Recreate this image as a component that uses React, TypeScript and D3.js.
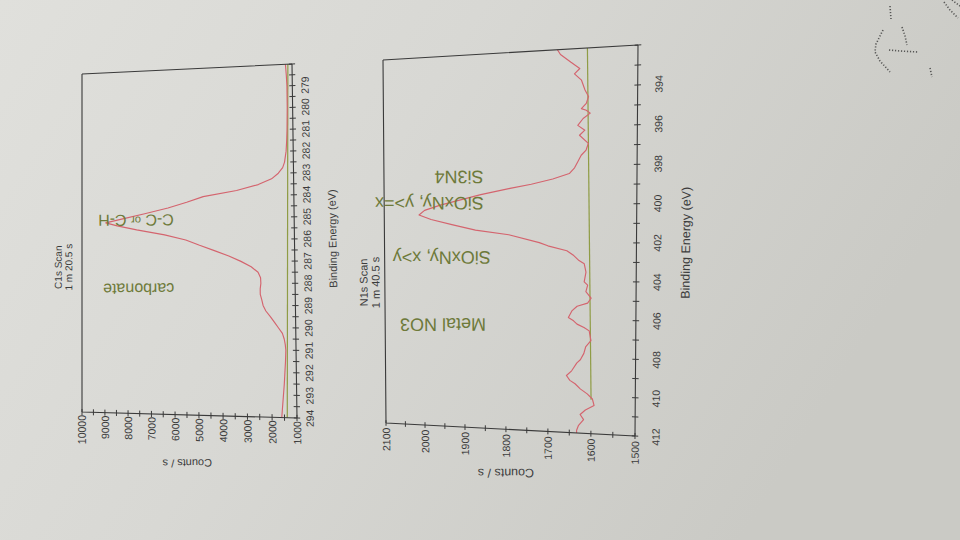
import React from 'react';
import * as d3 from 'd3';

// ---------- C1s scan ----------
const c1sEnergy = [294.0, 293.5, 293.0, 292.5, 292.0, 291.5, 291.0, 290.75, 290.5, 290.25, 290.0, 289.75, 289.5, 289.25, 289.0, 288.75, 288.5, 288.25, 288.0, 287.75, 287.5, 287.25, 287.0, 286.75, 286.5, 286.25, 286.0, 285.75, 285.5, 285.3, 285.15, 285.0, 284.75, 284.5, 284.25, 284.0, 283.75, 283.5, 283.25, 283.0, 282.75, 282.5, 282.0, 281.5, 281.0, 280.0, 279.0, 278.5, 278.0];
const c1sCounts = [1610, 1570, 1530, 1490, 1460, 1430, 1410, 1430, 1470, 1540, 1700, 1860, 2020, 2200, 2310, 2360, 2420, 2420, 2390, 2400, 2500, 2780, 3200, 3700, 4300, 4920, 5500, 6400, 7600, 8450, 8950, 8300, 7250, 6250, 5450, 4750, 3350, 2450, 1900, 1620, 1440, 1360, 1290, 1260, 1240, 1220, 1220, 1240, 1270];
const c1sBgEnergy = [294, 278];
const c1sBgCounts = [1390, 1170];
const c1sXLabels = [294, 293, 292, 291, 290, 289, 288, 287, 286, 285, 284, 283, 282, 281, 280, 279];
const c1sYLabels = [1000, 2000, 3000, 4000, 5000, 6000, 7000, 8000, 9000, 10000];
const c1sNoteText = ['C-C or C-H', 'carbonate'];
const c1sNoteEnergy = [285.08, 288.25];
const c1sNoteCounts = [6000, 6000];

// ---------- N1s scan ----------
const n1sEnergy = [412.0, 411.86, 411.61, 411.27, 411.01, 410.76, 410.5, 410.16, 409.9, 409.65, 409.39, 409.22, 408.97, 408.71, 408.28, 408.11, 407.77, 407.43, 407.09, 406.58, 406.41, 406.24, 406.07, 405.9, 405.55, 405.3, 405.13, 404.87, 404.53, 404.19, 404.02, 403.51, 403.08, 402.91, 402.65, 402.4, 402.14, 401.97, 401.55, 401.29, 401.0, 400.7, 400.45, 400.2, 399.93, 399.59, 399.4, 399.1, 398.9, 398.65, 398.39, 398.1, 397.8, 397.46, 397.2, 396.86, 396.43, 396.18, 395.92, 395.58, 395.32, 395.16, 395.07, 394.81, 394.47, 394.13, 393.62, 393.28, 393.02, 392.68, 392.25, 392.0];
const n1sCounts = [1633, 1633, 1629, 1617, 1625, 1613, 1593, 1597, 1609, 1625, 1637, 1649, 1657, 1645, 1633, 1625, 1617, 1613, 1601, 1605, 1617, 1633, 1641, 1653, 1645, 1633, 1609, 1601, 1613, 1609, 1617, 1613, 1617, 1629, 1641, 1657, 1701, 1721, 1793, 1873, 1928, 1982, 2012, 1998, 1959, 1895, 1860, 1790, 1740, 1690, 1652, 1640, 1633, 1625, 1614, 1609, 1629, 1617, 1633, 1621, 1605, 1614, 1625, 1614, 1609, 1617, 1625, 1641, 1629, 1649, 1673, 1680];
const n1sBgEnergy = [410.2, 392];
const n1sBgCounts = [1600, 1612];
const n1sXLabels = [412, 410, 408, 406, 404, 402, 400, 398, 396, 394];
const n1sYLabels = [1500, 1600, 1700, 1800, 1900, 2000, 2100];
const n1sNoteText = ['SiOxNy, y>=x', 'Si3N4', 'SiOxNy, x>y', 'Metal NO3'];
const n1sNoteEnergy = [399.85, 398.45, 402.75, 406.35];
const n1sNoteCounts = [1853, 1853, 1836, 1848];

const FONT = '"Liberation Sans", Arial, Helvetica, sans-serif';
const AXIS = '#3a3a3a';
const TXT = '#3c3c3c';
const RED = '#d4646e';
const GREEN = '#8f9c45';
const NOTE = '#6e7a3a';

type Pt = [number, number];

function homography(q: Pt[]) {
  const [x0, y0] = q[0], [x1, y1] = q[1], [x2, y2] = q[2], [x3, y3] = q[3];
  const dx1 = x1 - x2, dx2 = x3 - x2, dx3 = x0 - x1 + x2 - x3;
  const dy1 = y1 - y2, dy2 = y3 - y2, dy3 = y0 - y1 + y2 - y3;
  const den = dx1 * dy2 - dx2 * dy1;
  const g = (dx3 * dy2 - dx2 * dy3) / den;
  const h = (dx1 * dy3 - dx3 * dy1) / den;
  const a = x1 - x0 + g * x1, b = x3 - x0 + h * x3, c = x0;
  const d = y1 - y0 + g * y1, e = y3 - y0 + h * y3, f = y0;
  return (s: number, t: number): Pt => {
    const w = g * s + h * t + 1;
    return [(a * s + b * t + c) / w, (d * s + e * t + f) / w];
  };
}

interface PanelCfg {
  corners: Pt[];
  W: number; H: number;
  xDomain: [number, number]; yDomain: [number, number];
  xStep: number; yStep: number;
  xLabels: number[]; yLabels: number[];
  xLabelOff: number; xTitleOff: number; yLabelOff: number; yTitleOff: number;
  titleU: number; titleV: number[]; title: string[];
  fTick: number; fAxis: number; fTitle: number; fNote: number;
  energy: number[]; counts: number[];
  bgE: number[]; bgC: number[];
  notes: string[]; noteE: number[]; noteC: number[];
}

function Panel({ p }: { p: PanelCfg }) {
  const sx = d3.scaleLinear().domain(p.xDomain).range([0, p.W]);
  const sy = d3.scaleLinear().domain(p.yDomain).range([p.H, 0]);
  const Hm = homography(p.corners);
  const P = (u: number, v: number) => Hm(u / p.W, v / p.H);
  const ang = (u: number, v: number) => {
    const a = P(u, v), b = P(u + 1, v);
    return (Math.atan2(b[1] - a[1], b[0] - a[0]) * 180) / Math.PI;
  };
  const seg = (u1: number, v1: number, u2: number, v2: number) => {
    const a = P(u1, v1), b = P(u2, v2);
    return `M${a[0].toFixed(2)},${a[1].toFixed(2)}L${b[0].toFixed(2)},${b[1].toFixed(2)}`;
  };
  const line = d3
    .line<Pt>()
    .x((d) => P(sx(d[0]), sy(d[1]))[0])
    .y((d) => P(sx(d[0]), sy(d[1]))[1]);

  const T = (key: string, u: number, v: number, rot: number, anchor: string, size: number, fill: string, content: any) => {
    const [x, y] = P(u, v);
    const a = ang(u, v) + rot;
    return (
      <text key={key} transform={`translate(${x.toFixed(2)},${y.toFixed(2)}) rotate(${a.toFixed(2)})`} textAnchor={anchor as any} dominantBaseline="central" fontSize={size} fill={fill} fontFamily={FONT}>
        {content}
      </text>
    );
  };

  const [xa, xb] = p.xDomain;
  const xmin = Math.min(xa, xb), xmax = Math.max(xa, xb);
  const xTicks = d3.range(xmin, xmax + 1e-6, p.xStep);
  const yTicks = d3.range(p.yDomain[0], p.yDomain[1] + 1e-6, p.yStep);

  const spectrum: Pt[] = p.energy.map((e, i) => [e, p.counts[i]]);
  const bg: Pt[] = p.bgE.map((e, i) => [e, p.bgC[i]]);

  let tickPath = '';
  xTicks.forEach((t) => { tickPath += seg(sx(t), p.H - 3, sx(t), p.H + 3); });
  yTicks.forEach((t) => { tickPath += seg(-3, sy(t), 3, sy(t)); });

  const frame = seg(0, 0, p.W, 0) + seg(p.W, 0, p.W, p.H) + seg(0, p.H, p.W, p.H) + seg(0, 0, 0, p.H);

  return (
    <g>
      <path d={line(bg) || ''} fill="none" stroke={GREEN} strokeWidth={1.2} />
      <path d={line(spectrum) || ''} fill="none" stroke={RED} strokeWidth={1.15} strokeLinejoin="round" />
      <path d={frame} fill="none" stroke={AXIS} strokeWidth={1.1} />
      <path d={tickPath} fill="none" stroke={AXIS} strokeWidth={1} />
      {p.xLabels.map((l) => T('xl' + l, sx(l), p.H + p.xLabelOff, 0, 'middle', p.fTick, TXT, String(l)))}
      {p.yLabels.map((l) => T('yl' + l, -p.yLabelOff, sy(l), 0, 'end', p.fTick, TXT, String(l)))}
      {T('xt', p.W / 2, p.H + p.xTitleOff, 0, 'middle', p.fAxis, TXT, 'Binding Energy (eV)')}
      {T('yt', -p.yTitleOff, p.H / 2, -90, 'middle', p.fAxis, TXT, 'Counts / s')}
      {p.title.map((s, i) => T('ti' + i, p.titleU, p.titleV[i], 0, 'middle', p.fTitle, TXT, s))}
      {p.notes.map((s, i) => {
        const content = s === 'C-C or C-H'
          ? [<tspan key="a">C-C </tspan>, <tspan key="b" fontSize={p.fNote * 0.7}>or</tspan>, <tspan key="c"> C-H</tspan>]
          : s;
        return T('n' + i, sx(p.noteE[i]), sy(p.noteC[i]), -90, 'start', p.fNote, NOTE, content);
      })}
    </g>
  );
}

const c1sPanel: PanelCfg = {
  corners: [[82, 412], [82, 74], [292, 64], [297, 418]],
  W: 345, H: 213,
  xDomain: [294, 278], yDomain: [1000, 10000],
  xStep: 0.5, yStep: 500,
  xLabels: c1sXLabels, yLabels: c1sYLabels,
  xLabelOff: 12, xTitleOff: 36, yLabelOff: 3, yTitleOff: 47,
  titleU: 146, titleV: [-25, -14], title: ['C1s Scan', '1 m 20.5 s'],
  fTick: 10.5, fAxis: 11, fTitle: 10, fNote: 16,
  energy: c1sEnergy, counts: c1sCounts, bgE: c1sBgEnergy, bgC: c1sBgCounts,
  notes: c1sNoteText, noteE: c1sNoteEnergy, noteC: c1sNoteCounts,
};

const n1sPanel: PanelCfg = {
  corners: [[386, 423], [383, 60], [638, 45], [635, 436]],
  W: 380, H: 250,
  xDomain: [412, 392], yDomain: [1500, 2100],
  xStep: 1, yStep: 50,
  xLabels: n1sXLabels, yLabels: n1sYLabels,
  xLabelOff: 19, xTitleOff: 45, yLabelOff: 5, yTitleOff: 45,
  titleU: 149, titleV: [-23, -10], title: ['N1s Scan', '1 m 40.5 s'],
  fTick: 10.5, fAxis: 12.5, fTitle: 11, fNote: 18,
  energy: n1sEnergy, counts: n1sCounts, bgE: n1sBgEnergy, bgC: n1sBgCounts,
  notes: n1sNoteText, noteE: n1sNoteEnergy, noteC: n1sNoteCounts,
};

const specks = [
  'M890,6 L891,19',
  'M883,30 L876,44 L875,52 L880,61 L890,72',
  'M902,27 L905,36 L907,45',
  'M889,50 L900,51 L918,52',
  'M930,68 L932,77',
  'M944,2 L950,10 L958,18',
  'M952,0 L960,6',
];

export default function App() {
  return (
    <svg width={960} height={540} viewBox="0 0 960 540" style={{ position: 'fixed', left: 0, top: 0 }}>
      <defs>
        <linearGradient id="paper" x1="0" y1="0" x2="1" y2="0.35">
          <stop offset="0" stopColor="#e0e0dc" />
          <stop offset="0.45" stopColor="#d8d8d4" />
          <stop offset="1" stopColor="#cacac5" />
        </linearGradient>
      </defs>
      <rect x={0} y={0} width={960} height={540} fill="url(#paper)" />
      {specks.map((d, i) => (
        <path key={i} d={d} fill="none" stroke="#2e2e2e" strokeWidth={1.6} strokeDasharray="1.2 1.8" opacity={0.75} />
      ))}
      <Panel p={c1sPanel} />
      <Panel p={n1sPanel} />
    </svg>
  );
}
